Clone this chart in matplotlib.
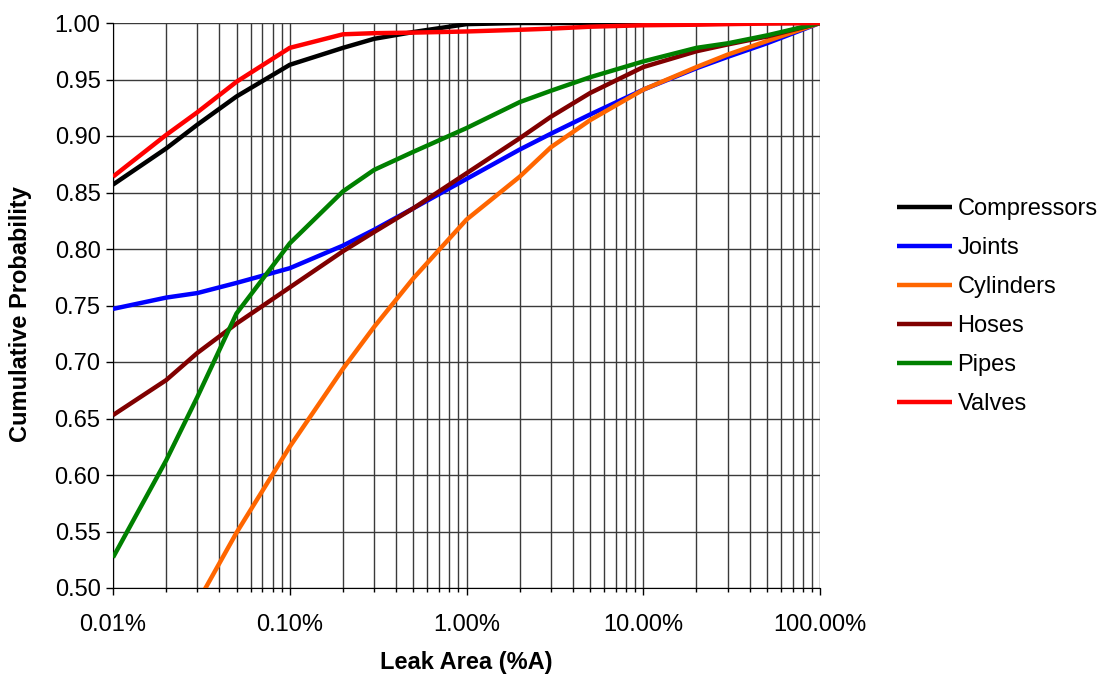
import matplotlib
matplotlib.use('Agg')
import matplotlib.pyplot as plt
from matplotlib.ticker import FixedLocator, LogLocator, NullFormatter

plt.rcParams['font.family'] = ['Liberation Sans', 'DejaVu Sans']

# leak area in percent
leak_area = [0.01, 0.02, 0.03, 0.05, 0.1, 0.2, 0.3, 0.5, 1, 2, 3, 5, 10, 20, 30, 50, 100]

compressors = [0.857, 0.889, 0.910, 0.935, 0.963, 0.978, 0.986, 0.992, 0.999, 1.0, 1.0, 1.0,
               1.0, 1.0, 1.0, 1.0, 1.0]
joints = [0.747, 0.757, 0.761, 0.770, 0.783, 0.803, 0.817, 0.836, 0.862, 0.888, 0.902, 0.919,
          0.941, 0.960, 0.970, 0.982, 1.0]
cylinders = [0.40, 0.45, 0.487, 0.549, 0.625, 0.694, 0.731, 0.774, 0.826, 0.864, 0.890, 0.914,
             0.941, 0.961, 0.972, 0.984, 1.0]
hoses = [0.653, 0.684, 0.708, 0.734, 0.766, 0.798, 0.815, 0.836, 0.867, 0.898, 0.917, 0.938,
         0.961, 0.975, 0.981, 0.988, 1.0]
pipes = [0.527, 0.613, 0.669, 0.743, 0.805, 0.851, 0.870, 0.886, 0.907, 0.930, 0.940, 0.952,
         0.966, 0.978, 0.982, 0.989, 1.0]
valves = [0.864, 0.901, 0.921, 0.948, 0.978, 0.990, 0.991, 0.9915, 0.9925, 0.994, 0.995, 0.9967,
          0.998, 0.9985, 0.999, 0.9995, 1.0]

series = [('Compressors', compressors, '#000000'),
          ('Joints', joints, '#0000FF'),
          ('Cylinders', cylinders, '#FF6600'),
          ('Hoses', hoses, '#800000'),
          ('Pipes', pipes, '#008000'),
          ('Valves', valves, '#FF0000')]

x_ticks = [0.01, 0.1, 1, 10, 100]
x_tick_labels = ['0.01%', '0.10%', '1.00%', '10.00%', '100.00%']
y_ticks = [0.50, 0.55, 0.60, 0.65, 0.70, 0.75, 0.80, 0.85, 0.90, 0.95, 1.00]

fig = plt.figure(figsize=(11.01, 6.77), dpi=100)
ax = fig.add_axes([113 / 1101, 1 - 588 / 677, (820 - 113) / 1101, (588 - 23) / 677])

for name, vals, col in series:
    ax.plot(leak_area, vals, color=col, lw=3.2, label=name, solid_capstyle='butt',
            solid_joinstyle='round', zorder=3)

ax.set_xscale('log')
ax.set_xlim(0.01, 100)
ax.set_ylim(0.5, 1.0)
ax.xaxis.set_major_locator(FixedLocator(x_ticks))
ax.set_xticklabels(x_tick_labels)
ax.xaxis.set_minor_locator(LogLocator(base=10, subs=range(2, 10)))
ax.xaxis.set_minor_formatter(NullFormatter())
ax.set_yticks(y_ticks)
ax.set_yticklabels([f'{v:.2f}' for v in y_ticks])

ax.grid(True, which='major', axis='both', color='#3a3a3a', lw=1)
ax.grid(True, which='minor', axis='x', color='#3a3a3a', lw=1)
ax.set_axisbelow(True)

ax.tick_params(axis='both', which='major', labelsize=17, length=5, width=1, direction='out')
ax.tick_params(axis='x', which='minor', length=3, width=1, direction='out')
ax.tick_params(axis='x', pad=14)
ax.tick_params(axis='y', pad=4)
for s in ['top', 'right']:
    ax.spines[s].set_visible(False)
for s in ['left', 'bottom']:
    ax.spines[s].set_color('black')

ax.set_xlabel('Leak Area (%A)', fontsize=17, fontweight='bold')
ax.set_ylabel('Cumulative Probability', fontsize=17, fontweight='bold')
ax.xaxis.set_label_coords(0.499, -0.112)
ax.yaxis.set_label_coords(-0.115, 0.485)

handles, labels = ax.get_legend_handles_labels()
fig.legend(handles, labels, loc='center left', bbox_to_anchor=(876 / 1101, 1 - 307 / 677),
           frameon=False, fontsize=17, handlelength=2.3, handletextpad=0.25, labelspacing=0.72)

fig.savefig('out.png', dpi=100)
